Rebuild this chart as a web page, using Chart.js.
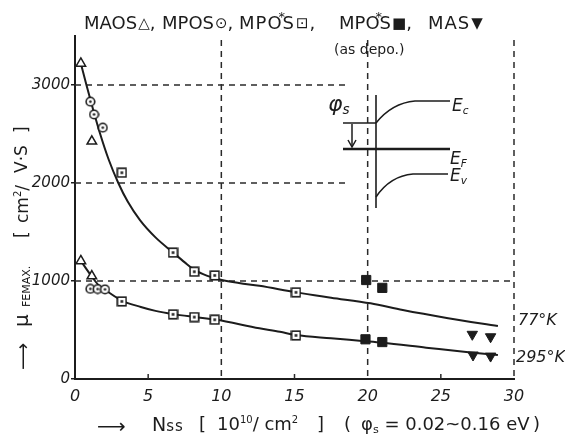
<!DOCTYPE html>
<html><head><meta charset="utf-8">
<script src="https://cdn.jsdelivr.net/npm/chart.js@4"></script>
<style>
html,body{margin:0;padding:0;background:#fff;}
#wrap{position:relative;width:565px;height:440px;overflow:hidden;font-family:"DejaVu Sans",sans-serif;color:#1c1c1c;}
canvas{position:absolute;left:0;top:0;}
.t{position:absolute;white-space:nowrap;line-height:1;}
.sym{font-size:15px;position:relative;top:-1px;margin-left:1px;}
.ast{display:inline-block;width:0;position:relative;left:-4px;top:-8px;font-size:13px;}
sub{font-size:0.62em;vertical-align:-0.25em;}
#ytitle{position:absolute;left:-103px;top:234px;width:250px;height:24px;transform:rotate(-90deg);}
#ytitle .t{top:3px;}
</style></head><body>
<div id="wrap">
<canvas id="c" width="565" height="440"></canvas>
<div class="t" style="left:84px;top:14px;font-size:18px;">MAOS<span class="sym">△</span>,</div>
<div class="t" style="left:162px;top:14px;font-size:18px;">MPOS<span class="sym">⊙</span>,</div>
<div class="t" style="left:239px;top:14px;font-size:18px;letter-spacing:1px;">MPO<span class="ast">*</span>S<span class="sym">⊡</span>,</div>
<div class="t" style="left:339px;top:14px;font-size:18px;">MPO<span class="ast">*</span>S<span class="sym">■</span>,</div>
<div class="t" style="left:428px;top:14px;font-size:18px;letter-spacing:1px;">MAS<span class="sym">▼</span></div>
<div class="t" style="left:334px;top:42px;font-size:14px;">(as depo.)</div>
<div class="t" style="left:518px;top:312px;font-size:16px;font-style:italic;">77°K</div>
<div class="t" style="left:516px;top:349px;font-size:16px;font-style:italic;">295°K</div>
<div class="t" style="left:452px;top:97px;font-size:17px;font-style:italic;">E<sub>c</sub></div>
<div class="t" style="left:450px;top:150px;font-size:17px;font-style:italic;">E<sub>F</sub></div>
<div class="t" style="left:450px;top:167px;font-size:17px;font-style:italic;">E<sub>v</sub></div>
<div class="t" style="left:328px;top:93px;font-size:22px;font-style:italic;">φ<sub>s</sub></div>
<!-- x axis title -->
<div class="t" style="left:97px;top:416px;font-size:20px;">⟶</div>
<div class="t" style="left:152px;top:415px;font-size:19px;">N<span style="font-size:15px;letter-spacing:1px">ss</span></div>
<div class="t" style="left:199px;top:415px;font-size:18px;">[</div>
<div class="t" style="left:217px;top:415px;font-size:18px;">10<sup style="font-size:10px">10</sup>/ cm<sup style="font-size:10px">2</sup></div>
<div class="t" style="left:317px;top:415px;font-size:18px;">]</div>
<div class="t" style="left:344px;top:415px;font-size:18px;">(</div>
<div class="t" style="left:361px;top:415px;font-size:18px;">φ<sub>s</sub> = 0.02~0.16 eV</div>
<div class="t" style="left:533px;top:415px;font-size:18px;">)</div>
<!-- y axis title (rotated) -->
<div id="ytitle">
  <div class="t" style="left:1px;font-size:19px;">⟶</div>
  <div class="t" style="left:44px;font-size:20px;top:1px;">μ</div>
  <div class="t" style="left:64px;font-size:11px;top:11px;">FEMAX.</div>
  <div class="t" style="left:133px;font-size:17px;">[</div>
  <div class="t" style="left:148px;font-size:17px;">cm<sup style="font-size:10px">2</sup>/</div>
  <div class="t" style="left:198px;font-size:17px;">V·S</div>
  <div class="t" style="left:238px;font-size:17px;">]</div>
</div>
</div>
<script>
// ---- data ----
const xTicks = [0, 5, 10, 15, 20, 25, 30];
const yTicks = [0, 1000, 2000, 3000];

const maosN  = [0.4, 1.15, 0.4, 1.15];
const maosMu = [3220, 2425, 1205, 1050];

const mposN  = [1.05, 1.3, 1.9, 1.05, 1.55, 2.05];
const mposMu = [2830, 2700, 2565, 920, 918, 915];

const mposStarN  = [3.2, 6.7, 8.15, 9.55, 15.1, 3.2, 6.7, 8.15, 9.55, 15.1];
const mposStarMu = [2105, 1290, 1095, 1057, 884, 792, 660, 632, 605, 445];

const depoN  = [19.9, 21.0, 19.85, 21.0];
const depoMu = [1010, 930, 405, 377];

const masN  = [27.15, 28.4, 27.2, 28.4];
const masMu = [456, 431, 245, 234];

const curve77N  = [0.4, 0.8, 1.2, 1.7, 2.3, 2.96, 3.6, 4.44, 5.5, 6.7, 7.5, 8.2, 9.0, 9.9, 11.2, 12.6, 15.1, 17.5, 20.2, 22.4, 25.5, 28.9];
const curve77Mu = [3220, 2990, 2770, 2510, 2240, 2000, 1810, 1621, 1445, 1291, 1190, 1110, 1055, 1015, 980, 951, 884, 830, 772, 703, 620, 540];

const curve295N  = [0.4, 1.1, 1.6, 2.1, 3.2, 4.5, 5.5, 6.7, 8.2, 9.6, 12.6, 14.0, 15.1, 17.5, 19.8, 21.0, 24.0, 27.2, 28.9];
const curve295Mu = [1205, 1055, 960, 905, 800, 735, 695, 662, 632, 606, 517, 482, 448, 415, 386, 370, 320, 268, 245];

const pts = (xs, ys) => xs.map((x, i) => ({x, y: ys[i]}));
const INK = '#1c1c1c';

function circDot(d){const c=document.createElement('canvas');c.width=c.height=d;const g=c.getContext('2d');
  g.fillStyle='#fff';g.strokeStyle=INK;g.lineWidth=1.6;g.beginPath();g.arc(d/2,d/2,d/2-1.2,0,Math.PI*2);g.fill();g.stroke();
  g.fillStyle=INK;g.beginPath();g.arc(d/2,d/2,1.3,0,Math.PI*2);g.fill();return c;}
function sqDot(d){const c=document.createElement('canvas');c.width=c.height=d;const g=c.getContext('2d');
  g.fillStyle='#fff';g.strokeStyle=INK;g.lineWidth=1.6;g.fillRect(1,1,d-2,d-2);g.strokeRect(1.2,1.2,d-2.4,d-2.4);
  g.fillStyle=INK;g.fillRect(d/2-1.3,d/2-1.3,2.6,2.6);return c;}

const decor = {
  id:'decor',
  beforeDatasetsDraw(chart){
    const {ctx, scales:{x, y}} = chart;
    ctx.save();
    ctx.strokeStyle = '#2a2a2a'; ctx.lineWidth = 1.5; ctx.setLineDash([6,5]);
    const seg = (x1,y1,x2,y2)=>{ctx.beginPath();ctx.moveTo(x.getPixelForValue(x1),y.getPixelForValue(y1));ctx.lineTo(x.getPixelForValue(x2),y.getPixelForValue(y2));ctx.stroke();};
    seg(10,3460,10,0); seg(20,3460,20,0); seg(30,3460,30,0);
    seg(0,1000,30,1000); seg(0,2000,18.6,2000); seg(0,3000,18.6,3000);
    ctx.setLineDash([]); ctx.lineWidth = 1.5;
    [5,15,25].forEach(v=>{const px=x.getPixelForValue(v);ctx.beginPath();ctx.moveTo(px,y.bottom);ctx.lineTo(px,y.bottom-5);ctx.stroke();});
    // band diagram inset
    ctx.strokeStyle = INK; ctx.lineWidth = 1.6;
    ctx.beginPath(); ctx.moveTo(376,95); ctx.lineTo(376,208); ctx.stroke();
    ctx.beginPath(); ctx.moveTo(376,123); ctx.quadraticCurveTo(392,103,415,101); ctx.lineTo(450,101); ctx.stroke();
    ctx.beginPath(); ctx.moveTo(376,197); ctx.quadraticCurveTo(390,176,413,174); ctx.lineTo(448,174); ctx.stroke();
    ctx.beginPath(); ctx.moveTo(343,123); ctx.lineTo(376,123); ctx.stroke();
    ctx.lineWidth = 2.6;
    ctx.beginPath(); ctx.moveTo(343,149); ctx.lineTo(450,149); ctx.stroke();
    ctx.lineWidth = 1.5;
    ctx.beginPath(); ctx.moveTo(352,124); ctx.lineTo(352,146); ctx.stroke();
    ctx.beginPath(); ctx.moveTo(348,140); ctx.lineTo(352,147); ctx.lineTo(356,140); ctx.stroke();
    ctx.restore();
  }
};

const curveStyle = {showLine:true, pointRadius:0, borderColor:INK, borderWidth:2, fill:false, cubicInterpolationMode:'monotone'};

new Chart(document.getElementById('c'), {
  type:'scatter',
  data:{datasets:[
    {label:'MAOS', data:pts(maosN,maosMu), pointStyle:'triangle', radius:5.5, backgroundColor:'#fff', borderColor:INK, borderWidth:1.5},
    {label:'MPOS', data:pts(mposN,mposMu), pointStyle:circDot(11), radius:5.5},
    {label:'MPO*S', data:pts(mposStarN,mposStarMu), pointStyle:sqDot(11), radius:5.5},
    {label:'MPO*S (as depo.)', data:pts(depoN,depoMu), pointStyle:'rect', radius:6.5, backgroundColor:INK, borderColor:INK, borderWidth:1},
    {label:'MAS', data:pts(masN,masMu), pointStyle:'triangle', rotation:180, radius:6, backgroundColor:INK, borderColor:INK, borderWidth:1},
    Object.assign({label:'77K', data:pts(curve77N,curve77Mu)}, curveStyle),
    Object.assign({label:'295K', data:pts(curve295N,curve295Mu)}, curveStyle)
  ]},
  options:{
    responsive:false, animation:false,
    layout:{padding:{left:0,right:51,top:36,bottom:0}},
    plugins:{legend:{display:false},tooltip:{enabled:false}},
    scales:{
      x:{type:'linear',min:0,max:30,
        afterBuildTicks:s=>{s.ticks=xTicks.map(v=>({value:v}));},
        afterFit:s=>{s.height=61;},
        grid:{display:false,drawTicks:false},
        border:{display:true,color:INK,width:2},
        ticks:{padding:8,autoSkip:false,maxRotation:0,color:INK,callback:v=>String(v),font:{family:'DejaVu Sans',size:16,style:'italic'}}},
      y:{type:'linear',min:0,max:3500,
        afterBuildTicks:s=>{s.ticks=yTicks.map(v=>({value:v}));},
        afterFit:s=>{s.width=75;},
        grid:{display:true,drawOnChartArea:false,drawTicks:true,tickLength:4,color:INK,lineWidth:1.5},
        border:{display:true,color:INK,width:2},
        ticks:{padding:1,color:INK,callback:v=>String(v),font:{family:'DejaVu Sans',size:15,style:'italic'}}}
    }
  },
  plugins:[decor]
});
</script>
</body></html>
